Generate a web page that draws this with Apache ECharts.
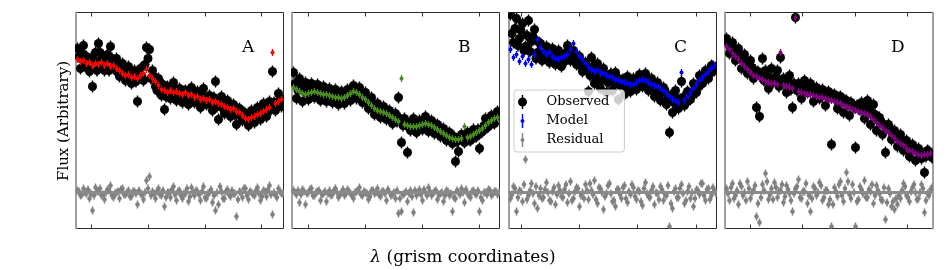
<!DOCTYPE html>
<html><head><meta charset="utf-8">
<script src="https://cdn.jsdelivr.net/npm/echarts@6/dist/echarts.min.js"></script>
<style>html,body{margin:0;padding:0;background:#fff}#c{width:950px;height:270px}</style>
</head><body><div id="c"></div>
<script>
// ---- data (flux, arbitrary units; sample index along the grism) ----
const panelNames = ['A', 'B', 'C', 'D'];

// observed: main samples (index i) and interleaved samples (index i + 0.5)
const observedA = [180,160,183,172,157,142,176,185,170,158,174,182,160,170,152,165,148,162,145,158,127,160,148,181,179,158,142,150,133,119,142,130,146,128,140,126,138,124,141,126,137,121,140,124,133,118,147,109,132,115,128,112,124,104,120,108,115,103,118,106,121,109,125,112,127,157,118,135,122];
const observedA2 = [172,175,163,160,170,168,158,176,162,168,158,170,166,156,162,157,156,150,154,147,156,152,164,170,150,152,138,140,144,132,135,141,132,136,131,137,130,136,130,134,128,133,127,130,125,131,122,128,120,124,117,121,114,119,112,116,108,112,109,116,112,118,114,122,119,126,123,130,127];
const modelA = [169,167,168,165,166,163,165,164,166,163,165,162,163,160,158,155,153,154,151,152,150,153,155,159,153,150,147,143,139,138,136,138,136,137,135,134,136,133,134,131,132,129,130,128,129,126,127,125,124,122,121,119,120,117,116,113,110,109,111,112,114,115,117,119,121,176,125,127,129];
const residualA = [38,33,40,35,30,18,41,37,33,29,39,43,31,36,30,40,34,38,32,37,24,35,29,48,52,37,30,40,33,22,36,31,42,28,38,30,35,27,41,33,37,28,42,30,36,26,18,24,37,30,39,32,35,12,37,31,40,29,36,33,41,28,38,32,43,14,33,40,35];
const residualA2 = [37,34,36,39,35,33,37,40,34,36,38,33,35,37,39,34,36,32,37,35,38,34,36,40,33,35,37,34,38,31,36,39,34,37,33,35,40,32,36,38,34,37,31,35,39,33,36,42,30,37,34,38,35,29,36,40,33,37,34,38,35,32,37,39,34,36,31,37,35];

const observedB = [156,130,150,127,146,129,145,131,144,128,142,127,140,126,139,124,137,125,139,128,143,130,141,126,136,120,131,114,125,111,122,109,118,105,115,131,86,110,76,98,110,96,108,99,112,97,108,95,104,92,100,88,96,85,67,77,94,86,96,88,99,92,80,97,110,102,113,105,117];
const observedB2 = [145,138,141,137,136,139,134,140,133,138,132,136,131,134,129,133,128,133,131,137,135,138,131,133,126,128,120,122,116,119,113,117,111,113,107,110,103,106,101,105,100,105,101,107,103,106,101,103,97,99,93,95,89,92,87,91,88,93,89,95,92,99,96,103,101,108,106,113,114];
const modelB = [141,139,137,135,134,135,136,137,136,135,134,134,133,132,131,131,130,131,133,135,137,136,134,131,129,126,123,120,118,117,116,115,113,111,109,107,150,104,103,102,102,102,103,104,105,104,103,101,99,97,95,93,91,90,89,89,90,102,91,92,94,96,98,100,103,106,108,110,111];
const residualB = [38,34,26,39,24,36,40,33,37,28,35,27,38,34,40,31,36,33,39,35,30,37,41,33,36,29,38,35,40,32,37,28,36,34,30,15,17,35,27,38,16,33,39,28,36,41,33,37,29,35,27,38,33,17,30,36,40,26,35,31,38,34,17,28,36,39,33,37,34];
const residualB2 = [36,38,34,37,35,39,33,36,38,34,37,35,33,38,36,34,39,35,37,33,36,38,34,37,35,32,38,36,34,37,35,39,33,36,38,30,34,37,35,32,38,36,34,39,33,37,35,38,34,36,33,37,35,31,38,34,36,39,33,37,35,38,31,36,34,38,35,37,36];

const observedC = [214,186,210,190,205,182,208,187,199,176,185,170,182,166,180,164,178,162,175,183,168,178,164,172,157,166,137,171,145,165,140,160,136,150,138,156,129,148,134,152,137,150,139,154,142,155,138,150,132,146,128,141,124,96,116,138,120,147,123,137,129,145,136,153,145,158,150,163,158];
const observedC2 = [195,200,183,198,178,193,177,192,170,186,168,176,170,174,168,173,167,172,168,177,172,174,166,162,160,158,153,162,150,158,148,154,146,155,145,151,143,149,141,147,142,146,144,150,146,150,143,146,139,142,136,138,131,133,126,130,129,131,126,135,133,142,141,150,148,156,155,162,161];
const modelC = [179,171,174,167,172,165,169,164,174,189,181,177,174,176,172,170,169,171,172,174,179,185,177,172,169,165,161,159,157,158,156,155,153,152,151,149,148,147,146,145,144,144,146,148,149,148,146,144,143,142,140,138,135,132,129,128,126,156,128,132,136,140,144,148,151,154,157,160,163];
const residualC = [30,42,17,38,27,69,33,45,25,20,40,31,46,28,37,24,43,32,39,26,47,30,41,22,36,44,29,38,48,25,40,19,35,45,27,22,39,30,43,26,34,41,29,37,23,46,32,38,24,35,42,28,33,2,20,40,31,44,25,37,30,22,39,34,45,28,40,33,38];
const residualC2 = [34,40,31,37,44,29,38,35,42,33,30,39,36,27,41,34,38,31,44,35,28,37,40,33,30,38,45,34,29,41,36,32,43,35,28,39,34,41,30,37,44,32,38,27,40,35,31,42,36,29,39,34,43,25,37,31,40,35,28,42,36,30,38,45,33,39,29,41,35];

const observedD = [190,175,186,168,180,160,174,155,168,150,121,112,170,158,140,160,148,158,171,150,136,153,121,211,145,130,148,136,145,127,141,130,139,123,137,84,134,120,132,116,128,113,124,81,120,126,110,128,104,124,98,111,94,76,104,89,98,82,94,78,88,72,84,68,80,70,56,78,73];
const observedD2 = [186,182,178,176,173,168,165,163,161,158,157,154,148,152,150,146,152,142,147,146,150,139,145,138,142,139,141,138,140,136,138,135,136,133,132,133,129,131,127,128,124,126,121,123,119,121,117,119,115,114,109,107,104,102,99,97,94,91,88,86,84,81,80,78,76,75,72,77,71];
const modelD = [182,179,175,172,169,165,162,159,156,153,152,150,149,147,146,145,145,144,176,143,142,141,140,211,137,136,135,134,134,133,132,131,131,130,129,128,127,126,125,123,122,121,119,118,117,116,115,114,112,109,106,103,101,98,96,93,90,87,85,83,80,78,77,75,74,73,74,74,75];
const residualD = [40,28,45,33,24,42,36,47,30,38,12,6,44,55,29,40,46,31,38,26,43,35,17,40,49,30,37,25,17,42,33,46,28,38,24,2,41,32,47,27,56,34,44,2,29,39,48,31,37,25,43,35,28,9,40,22,19,24,30,45,33,27,41,36,30,44,16,35,39];
const residualD2 = [35,41,30,38,45,33,28,40,36,43,25,31,38,47,34,29,41,37,44,32,39,28,35,42,31,37,45,33,30,40,36,43,31,38,29,24,37,44,33,40,47,30,36,27,42,35,31,39,44,33,38,29,41,26,35,27,30,33,38,42,31,37,44,29,36,40,28,33,41];

const residualZero = 36;

// tick positions along the sample axis (no labels shown)
const ticksA = [4.57, 23.43, 42.43, 61.33];
const ticksB = [4.9, 23.77, 42.9, 62];
const ticksC = [3.57, 22.77, 42.23, 62];
const ticksD = [7.77, 25.23, 43, 60.33];

const legendNames = ['Observed', 'Model', 'Residual'];
const xLabel = 'λ (grism coordinates)';
const yLabel = 'Flux (Arbitrary)';

// ---- chart build ----
const observed = [observedA, observedB, observedC, observedD];
const observed2 = [observedA2, observedB2, observedC2, observedD2];
const model = [modelA, modelB, modelC, modelD];
const residual = [residualA, residualB, residualC, residualD];
const residual2 = [residualA2, residualB2, residualC2, residualD2];
const ticks = [ticksA, ticksB, ticksC, ticksD];
const modelColors = ['#ff0000', '#4a8a22', '#0000ff', '#800080'];
const gridLefts = [75.5, 291.5, 508.5, 724.5];
const FONT = '"DejaVu Serif", serif';

const grids = [], xAxes = [], yAxes = [], series = [];

function errRender(color, r, err, lw) {
  return function (params, api) {
    const x = api.value(0), y = api.value(1);
    const c = api.coord([x, y]);
    const t = api.coord([x, y + err]);
    const b = api.coord([x, y - err]);
    return {
      type: 'group',
      children: [
        { type: 'line', shape: { x1: c[0], y1: t[1], x2: c[0], y2: b[1] }, style: { stroke: color, lineWidth: lw } },
        { type: 'circle', shape: { cx: c[0], cy: c[1], r: r }, style: { fill: color } }
      ]
    };
  };
}

const mk = (arr) => arr.map((v, i) => [i, v]);
const mkHalf = (arr) => arr.map((v, i) => [i + 0.5, v]);

for (let k = 0; k < 4; k++) {
  grids.push({ left: gridLefts[k], top: 12.5, width: 208, height: 216, show: true, borderColor: '#2b2b2b', borderWidth: 1, backgroundColor: 'transparent' });
  for (const pos of ['bottom', 'top']) {
    xAxes.push({
      gridIndex: k, type: 'value', min: -0.667, max: 68.667, position: pos,
      axisLine: { show: false, onZero: false }, splitLine: { show: false },
      axisLabel: { show: true, customValues: ticks[k], formatter: () => '', fontSize: 1 },
      axisTick: { show: true, inside: true, length: 4, customValues: ticks[k], lineStyle: { color: '#333', width: 1 } }
    });
  }
  yAxes.push({
    gridIndex: k, type: 'value', min: 0, max: 216, position: 'left',
    axisLine: { show: true, onZero: false, lineStyle: { color: '#a0a0a0', width: 2 } },
    axisTick: { show: false }, axisLabel: { show: false }, splitLine: { show: false }
  });

  const suffix = k === 2 ? '' : ' ' + panelNames[k];
  series.push({
    type: 'custom', name: legendNames[2] + suffix, xAxisIndex: 2 * k, yAxisIndex: k, clip: true, z: 2,
    itemStyle: { color: '#808080' }, encode: { x: 0, y: 1 },
    renderItem: errRender('#808080', 2.3, 4, 1.5), data: mk(residual[k]).concat(mkHalf(residual2[k])),
    markLine: { silent: true, symbol: 'none', label: { show: false }, animation: false,
      lineStyle: { color: '#8a8a8a', width: 3, type: 'solid' }, data: [{ yAxis: residualZero }] }
  });
  series.push({
    type: 'custom', name: legendNames[0] + suffix, xAxisIndex: 2 * k, yAxisIndex: k, clip: true, z: 3,
    itemStyle: { color: '#000000' }, encode: { x: 0, y: 1 },
    renderItem: errRender('#000000', 4.5, 6, 1.5), data: mk(observed[k]).concat(mkHalf(observed2[k]))
  });
  series.push({
    type: 'custom', name: legendNames[1] + suffix, xAxisIndex: 2 * k, yAxisIndex: k, clip: true, z: 4,
    itemStyle: { color: modelColors[k] }, encode: { x: 0, y: 1 },
    renderItem: errRender(modelColors[k], 2, 3.5, 1.3), data: mk(model[k])
  });
}
// right spine of the last panel
yAxes.push({
  gridIndex: 3, type: 'value', min: 0, max: 216, position: 'right',
  axisLine: { show: true, onZero: false, lineStyle: { color: '#a0a0a0', width: 2 } },
  axisTick: { show: false }, axisLabel: { show: false }, splitLine: { show: false }
});

const obsIcon = 'path://M4.25,0L5.75,0L5.75,2.6L4.25,2.6Z M4.25,11.4L5.75,11.4L5.75,14L4.25,14Z M0.5,7A4.5,4.5 0 1,1 9.5,7A4.5,4.5 0 1,1 0.5,7Z';
const smallIcon = 'path://M1.3,0L2.7,0L2.7,5.1L1.3,5.1Z M1.3,8.9L2.7,8.9L2.7,14L1.3,14Z M0,7A2,2 0 1,1 4,7A2,2 0 1,1 0,7Z';

const letterX = [242, 458, 674, 891];
const graphics = panelNames.map((n, k) => ({
  type: 'text', x: letterX[k], y: 39, z: 10,
  style: { text: n, font: '17px ' + FONT, fill: '#000', align: 'left', verticalAlign: 'top' }
}));
graphics.push({
  type: 'text', x: 64, y: 121, rotation: Math.PI / 2, z: 10,
  style: { text: yLabel, font: '15px ' + FONT, fill: '#000', align: 'center', verticalAlign: 'middle' }
});
graphics.push({
  type: 'text', x: 463, y: 258, z: 10,
  style: {
    text: '{i|λ}' + xLabel.slice(1), font: '17px ' + FONT, fill: '#000', align: 'center', verticalAlign: 'middle',
    rich: { i: { fontStyle: 'italic', fontFamily: FONT, fontSize: 17 } }
  }
});

const chart = echarts.init(document.getElementById('c'), null, { renderer: 'canvas' });
chart.setOption({
  animation: false,
  backgroundColor: '#fff',
  grid: grids,
  xAxis: xAxes,
  yAxis: yAxes,
  series: series,
  legend: {
    data: [
      { name: legendNames[0], icon: obsIcon },
      { name: legendNames[1], icon: smallIcon },
      { name: legendNames[2], icon: smallIcon }
    ],
    orient: 'vertical', left: 514, top: 90,
    padding: [5, 15, 5, 4], itemWidth: 30, itemHeight: 14, itemGap: 5,
    symbolKeepAspect: true, selectedMode: false,
    backgroundColor: 'rgba(255,255,255,0.8)', borderColor: '#cccccc', borderWidth: 1, borderRadius: 3,
    textStyle: { fontFamily: FONT, fontSize: 13, color: '#000', padding: [0, 0, 0, 4] }
  },
  graphic: graphics
});
</script>
</body></html>
